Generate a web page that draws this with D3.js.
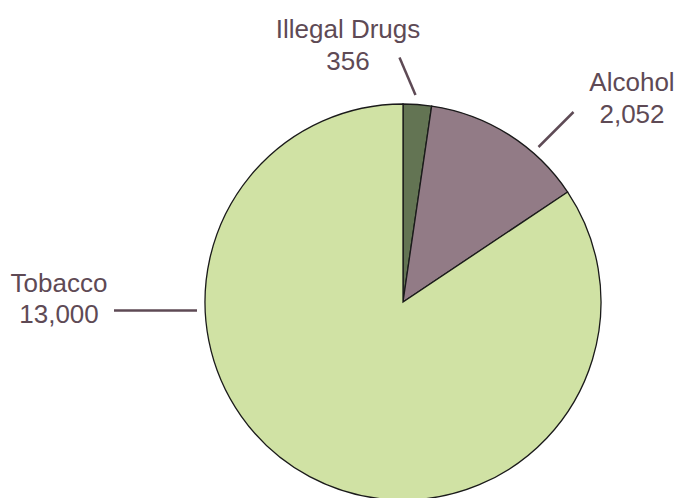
<!DOCTYPE html>
<html><head><meta charset="utf-8">
<script src="https://cdn.jsdelivr.net/npm/d3@7"></script>
<style>body{margin:0;background:#fff}svg{display:block}</style>
</head><body>
<svg id="chart" width="676" height="498"></svg>
<script>
const categories = ["Illegal Drugs", "Alcohol", "Tobacco"];
const values = [356, 2052, 13000];
const valueLabels = ["356", "2,052", "13,000"];
const colors = ["#637453", "#927b86", "#d0e2a4"];

const W = 676, H = 498;
const cx = 403, cy = 302, R = 198;
const textColor = "#5e4a55";
const fontSize = 26;

const svg = d3.select("#chart");
const g = svg.append("g").attr("transform", `translate(${cx},${cy})`);

const pie = d3.pie().sort(null).value(d => d.v);
const data = categories.map((c, i) => ({c, v: values[i], lab: valueLabels[i], col: colors[i]}));
const arcs = pie(data);
const arc = d3.arc().innerRadius(0).outerRadius(R);

g.selectAll("path").data(arcs).enter().append("path")
  .attr("d", arc)
  .attr("fill", d => d.data.col)
  .attr("stroke", "#1a1a1a")
  .attr("stroke-width", 1.3);

// label layout (annotation placement, absolute page coords)
const layout = [
  {lx: 348, ly1: 38, ly2: 70, p1: [399.5, 57.5], p2: [415.5, 95]},
  {lx: 632, ly1: 91, ly2: 123, p1: [573.5, 112], p2: [538.5, 147]},
  {lx: 59,  ly1: 292, ly2: 322.5, p1: [114, 310.5], p2: [197, 310.5]}
];

const lab = svg.append("g");
arcs.forEach((a, i) => {
  const L = layout[i];
  lab.append("line")
    .attr("x1", L.p1[0]).attr("y1", L.p1[1])
    .attr("x2", L.p2[0]).attr("y2", L.p2[1])
    .attr("stroke", textColor).attr("stroke-width", 2.5);
  lab.append("text").attr("x", L.lx).attr("y", L.ly1)
    .attr("text-anchor", "middle")
    .attr("font-family", "Liberation Sans, Arial, sans-serif")
    .attr("font-size", fontSize).attr("fill", textColor)
    .text(a.data.c);
  lab.append("text").attr("x", L.lx).attr("y", L.ly2)
    .attr("text-anchor", "middle")
    .attr("font-family", "Liberation Sans, Arial, sans-serif")
    .attr("font-size", fontSize).attr("fill", textColor)
    .text(a.data.lab);
});
</script>
</body></html>
